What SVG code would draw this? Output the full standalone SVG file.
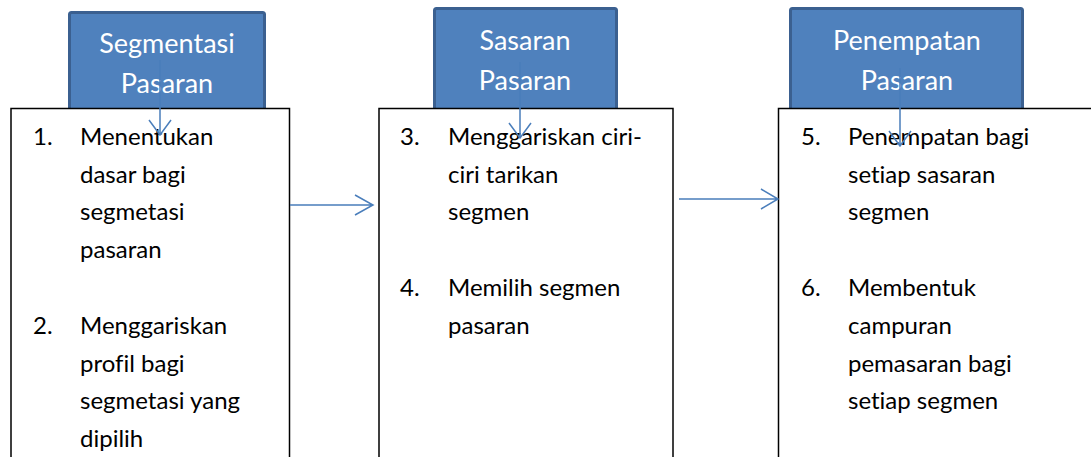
<svg xmlns="http://www.w3.org/2000/svg" width="1091" height="457" viewBox="0 0 1091 457">
<style>
.hdr{fill:#4f81bd;stroke:#3b6090;stroke-width:3}
.box{fill:#ffffff;stroke:#000000;stroke-width:1.5}
.ht{font-family:Lato,"Open Sans",sans-serif;font-size:27px;fill:#ffffff;text-anchor:middle;font-variant-ligatures:none}
.bt{font-family:Lato,"Open Sans",sans-serif;font-size:24px;fill:#000000;font-variant-ligatures:none}
.con{stroke:#4a7ebb;stroke-width:1.5;fill:none}
</style>
<rect width="1091" height="457" fill="#ffffff"/>
<g id="node-segmentasi">
<rect class="hdr" x="69.5" y="12.5" width="195" height="100" rx="2"/>
<text class="ht" x="167" y="53">Segmentasi</text>
<text class="ht" x="167" y="93">Pasaran</text>
</g>
<g id="node-sasaran">
<rect class="hdr" x="434.5" y="8.5" width="182" height="104" rx="2"/>
<text class="ht" x="525" y="50">Sasaran</text>
<text class="ht" x="525" y="90">Pasaran</text>
</g>
<g id="node-penempatan">
<rect class="hdr" x="790.5" y="8.5" width="232" height="104" rx="2"/>
<text class="ht" x="907" y="50">Penempatan</text>
<text class="ht" x="907" y="90">Pasaran</text>
</g>
<g id="node-list1">
<rect class="box" x="11" y="108.5" width="278.5" height="360"/>
<text class="bt" x="33" y="145">1.</text><text class="bt" x="80" y="145">Menentukan</text>
<text class="bt" x="80" y="183">dasar bagi</text>
<text class="bt" x="80" y="220">segmetasi</text>
<text class="bt" x="80" y="258">pasaran</text>
<text class="bt" x="33" y="334">2.</text><text class="bt" x="80" y="334">Menggariskan</text>
<text class="bt" x="80" y="372">profil bagi</text>
<text class="bt" x="80" y="409">segmetasi yang</text>
<text class="bt" x="80" y="447">dipilih</text>
</g>
<g id="node-list2">
<rect class="box" x="379" y="108.5" width="294" height="360"/>
<text class="bt" x="400" y="145">3.</text><text class="bt" x="448" y="145">Menggariskan ciri-</text>
<text class="bt" x="448" y="183">ciri tarikan</text>
<text class="bt" x="448" y="220">segmen</text>
<text class="bt" x="400" y="296">4.</text><text class="bt" x="448" y="296">Memilih segmen</text>
<text class="bt" x="448" y="334">pasaran</text>
</g>
<g id="node-list3">
<rect class="box" x="778.5" y="108.5" width="330" height="360"/>
<text class="bt" x="801" y="145">5.</text><text class="bt" x="848" y="145">Penempatan bagi</text>
<text class="bt" x="848" y="183">setiap sasaran</text>
<text class="bt" x="848" y="220">segmen</text>
<text class="bt" x="801" y="296">6.</text><text class="bt" x="848" y="296">Membentuk</text>
<text class="bt" x="848" y="334">campuran</text>
<text class="bt" x="848" y="372">pemasaran bagi</text>
<text class="bt" x="848" y="409">setiap segmen</text>
</g>
<g id="connectors">
<path class="con" d="M160 60 V135 M149 120 L160 135 L171 120"/>
<path class="con" d="M520 62 V138 M509 123 L520 138 L531 123"/>
<path class="con" d="M900 68 V146 M889 131 L900 146 L911 131"/>
<path class="con" d="M290 205 H373 M355 195 L373 205 L355 215"/>
<path class="con" d="M679 199 H778 M761 189 L778 199 L761 209"/>
</g>
</svg>
